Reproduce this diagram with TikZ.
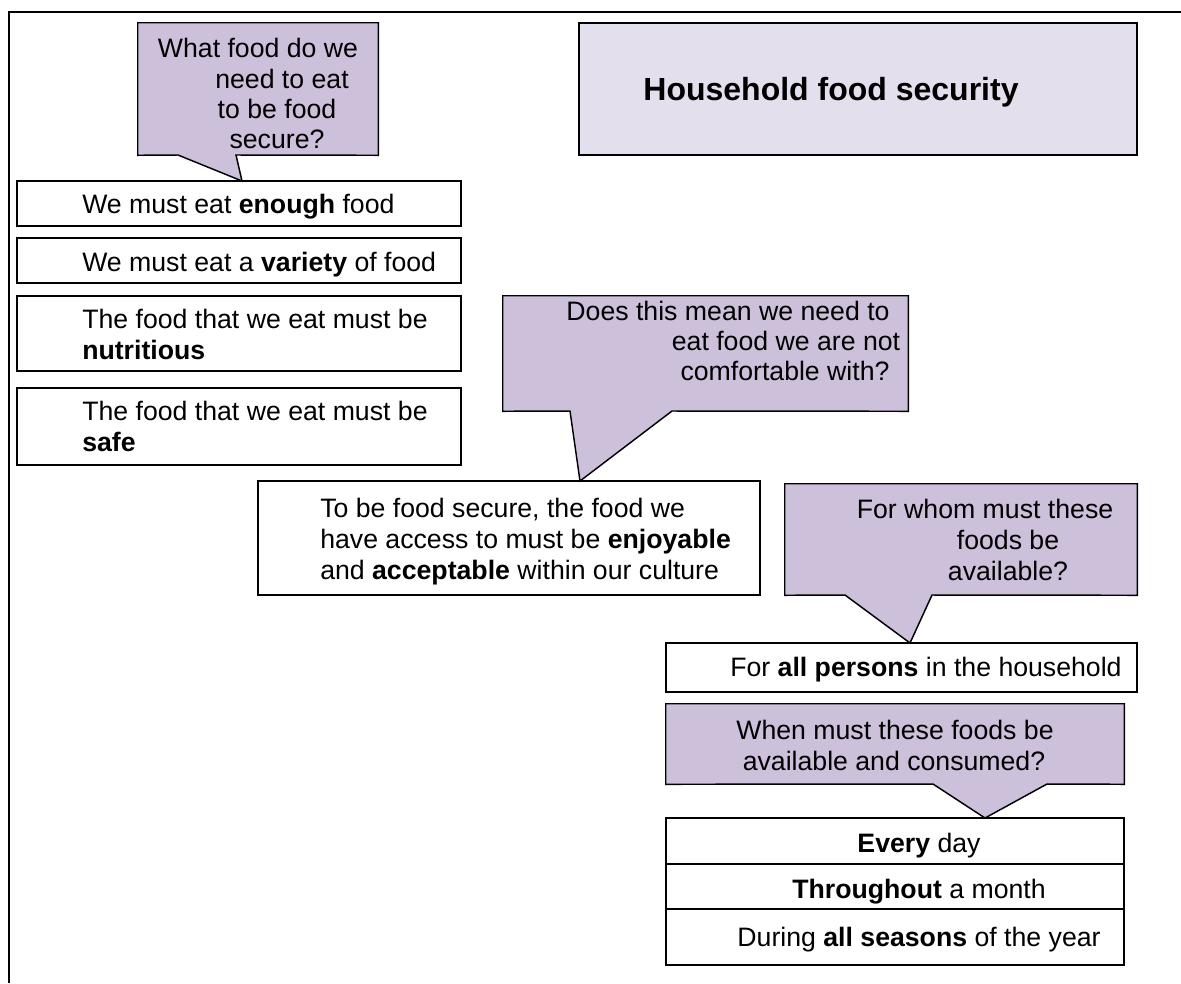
\documentclass[tikz,border=0pt]{standalone}
\usepackage{fontspec}
\setmainfont{Liberation Sans}
\usetikzlibrary{fit}

\definecolor{qlav}{HTML}{CCC0DA}
\definecolor{tlav}{HTML}{E4DFEC}

\newcommand{\bodyfont}{\fontsize{20}{23}\selectfont}
\newcommand{\headfont}{\fontsize{24}{28}\selectfont\bfseries}

\tikzset{
  wbox/.style={draw=black, line width=1.1pt, fill=white, inner sep=0pt},
  tbox/.style={draw=black, line width=1.1pt, fill=tlav, inner sep=0pt},
  frame/.style={inner sep=0pt},
  qshape/.style={draw=black, fill=qlav, line width=1.1pt, line join=miter},
  txt/.style={inner sep=0pt, anchor=base, font=\bodyfont},
  txtl/.style={inner sep=0pt, anchor=base west, font=\bodyfont},
}

\begin{document}
\begin{tikzpicture}[x=0.75pt, y=-0.75pt]
  \useasboundingbox (0,0) rectangle (1181,983);

  % page frame (left and top rule)
  \draw[line width=1.1pt] (9,983) -- (9,12) -- (1181,12);

  % ---- title ----
  \node[tbox, fit={(579,23) (1137,155)}] (title) {};
  \node[inner sep=0pt, anchor=base, font=\headfont] (titleT) at (831,100) {Household food security};

  % ---- left column of statements ----
  \node[wbox, fit={(17,181) (461,226)}] (enough) {};
  \node[txtl] (enoughT) at (82,213) {We must eat \textbf{enough} food};

  \node[wbox, fit={(17,238) (461,283)}] (variety) {};
  \node[txtl] (varietyT) at (82,271) {We must eat a \textbf{variety} of food};

  \node[wbox, fit={(17,296) (461,371)}] (nutri) {};
  \node[txtl] (nutriA) at (82,328) {The food that we eat must be};
  \node[txtl] (nutriB) at (82,359) {\textbf{nutritious}};

  \node[wbox, fit={(17,388) (461,465)}] (safe) {};
  \node[txtl] (safeA) at (82,420) {The food that we eat must be};
  \node[txtl] (safeB) at (82,451) {\textbf{safe}};

  % ---- enjoyable / acceptable ----
  \node[wbox, fit={(258,481) (760,595)}] (enjoy) {};
  \node[txtl] (enjoyA) at (320,517) {To be food secure, the food we};
  \node[txtl] (enjoyB) at (320,548) {have access to must be \textbf{enjoyable}};
  \node[txtl] (enjoyC) at (320,579) {and \textbf{acceptable} within our culture};

  % ---- persons ----
  \node[wbox, fit={(666,643) (1137,692)}] (persons) {};
  \node[txtl] (personsT) at (730,676) {For \textbf{all persons} in the household};

  % ---- time table ----
  \node[wbox, fit={(666,818) (1124,864)}] (day) {};
  \node[txt] (dayT) at (919,852) {\textbf{Every} day};
  \node[wbox, fit={(666,864) (1124,909)}] (month) {};
  \node[txt] (monthT) at (919,898) {\textbf{Throughout} a month};
  \node[wbox, fit={(666,909) (1124,965)}] (year) {};
  \node[txt] (yearT) at (919,946) {During \textbf{all seasons} of the year};

  % ---- speech bubble 1 ----
  \node[frame, fit={(138,23) (378,155)}] (q1) {};
  \coordinate (q1a) at (178,155);
  \coordinate (q1b) at (236,155);
  \coordinate (q1tip) at (242,181);
  \path[qshape] (q1.north west) -- (q1.north east) -- (q1.south east)
    -- (q1b) -- (q1tip) -- (q1a) -- (q1.south west) -- cycle;
  \node[txt] (q1L1) at (258,57) {What food do we};
  \node[txt] (q1L2) at (282,88) {need to eat};
  \node[txt] (q1L3) at (277,118) {to be food};
  \node[txt] (q1L4) at (277,148) {secure?};

  % ---- speech bubble 2 ----
  \node[frame, fit={(503,296) (908,411)}] (q2) {};
  \coordinate (q2a) at (570,411);
  \coordinate (q2b) at (672,411);
  \coordinate (q2tip) at (580,481);
  \path[qshape] (q2.north west) -- (q2.north east) -- (q2.south east)
    -- (q2b) -- (q2tip) -- (q2a) -- (q2.south west) -- cycle;
  \node[txt] (q2L1) at (728,320) {Does this mean we need to};
  \node[txt] (q2L2) at (786,350) {eat food we are not};
  \node[txt] (q2L3) at (785,380) {comfortable with?};

  % ---- speech bubble 3 ----
  \node[frame, fit={(785,484) (1137,595)}] (q3) {};
  \coordinate (q3a) at (845,595);
  \coordinate (q3b) at (932,595);
  \coordinate (q3tip) at (910,643);
  \path[qshape] (q3.north west) -- (q3.north east) -- (q3.south east)
    -- (q3b) -- (q3tip) -- (q3a) -- (q3.south west) -- cycle;
  \node[txt] (q3L1) at (985,518) {For whom must these};
  \node[txt] (q3L2) at (1008,549) {foods be};
  \node[txt] (q3L3) at (1008,580) {available?};

  % ---- speech bubble 4 ----
  \node[frame, fit={(666,704) (1124,784)}] (q4) {};
  \coordinate (q4a) at (933,784);
  \coordinate (q4b) at (1047,784);
  \coordinate (q4tip) at (985,818);
  \path[qshape] (q4.north west) -- (q4.north east) -- (q4.south east)
    -- (q4b) -- (q4tip) -- (q4a) -- (q4.south west) -- cycle;
  \node[txt] (q4L1) at (895,739) {When must these foods be};
  \node[txt] (q4L2) at (894,770) {available and consumed?};
\end{tikzpicture}
\end{document}
